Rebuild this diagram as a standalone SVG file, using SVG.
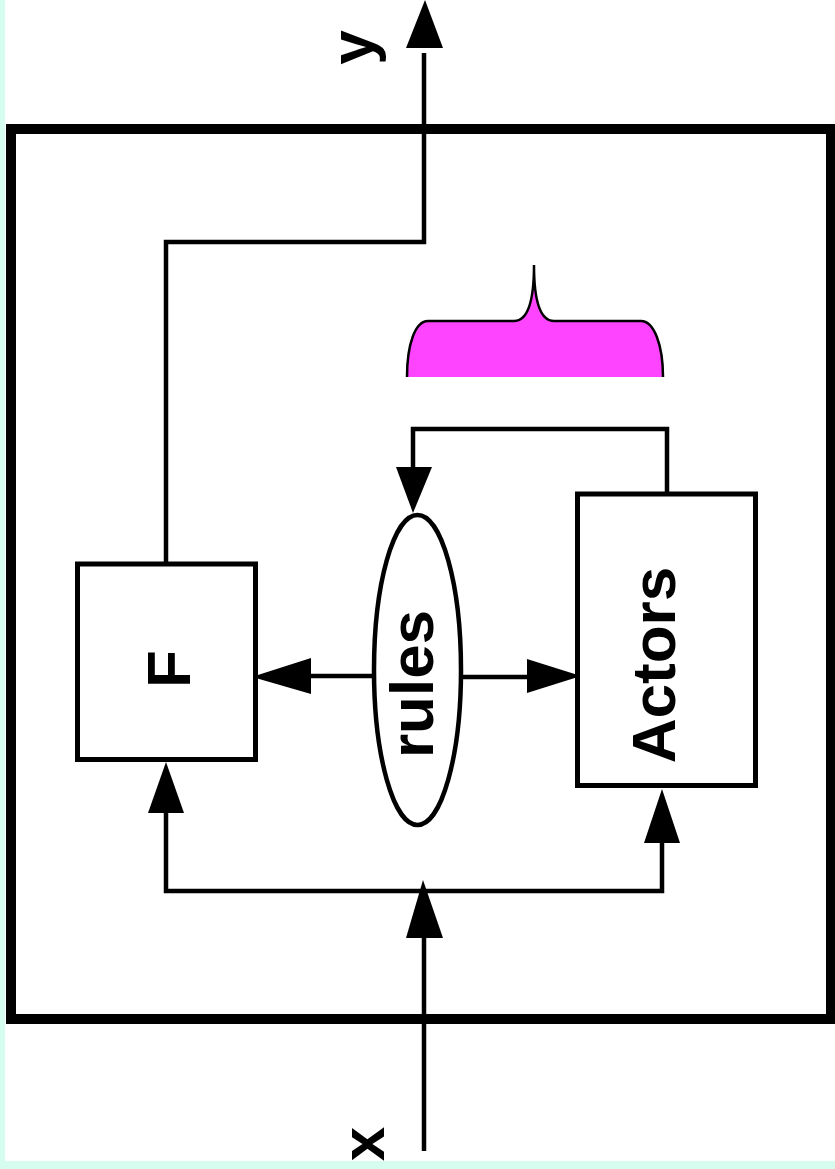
<svg xmlns="http://www.w3.org/2000/svg" width="835" height="1169" viewBox="0 0 835 1169">
  <style>
    .wire { fill: none; stroke: #000; stroke-width: 4.5; stroke-linejoin: miter; stroke-linecap: butt; }
    .box { fill: #fff; stroke: #000; stroke-width: 5; }
    .head { fill: #000; stroke: none; }
    .lbl { font-family: "Liberation Sans", Arial, Helvetica, sans-serif; font-weight: bold; font-size: 62px; fill: #000; text-anchor: middle; }
  </style>
  <rect x="0" y="0" width="835" height="1169" fill="#d5fcee"/>
  <rect x="5" y="0" width="830" height="1161" fill="#fff"/>

  <g id="system">
    <rect x="11" y="129" width="820" height="890" fill="none" stroke="#000" stroke-width="10"/>
  </g>

  <g id="brace">
    <path d="M407,377 C407,345 415,321 428,321 L514,321 C528,321 534,300 534,265 C534,300 540,321 554,321 L641,321 C654,321 663,345 663,377" fill="#ff44ff" stroke="#000" stroke-width="2.5"/>
  </g>

  <g id="connectors">
    <!-- F to output y -->
    <polyline class="wire" points="166,564 166,242 424,242 424,53"/>
    <polygon class="head" points="425,0 406,48 443,48"/>
    <!-- input x -->
    <line class="wire" x1="424" y1="1151" x2="424" y2="938"/>
    <polygon class="head" points="423,880 406,938 443,938"/>
    <!-- distribution to F and Actors -->
    <polyline class="wire" points="166,813 166,891 662,891 662,843"/>
    <polygon class="head" points="166,762 148,813 184,813"/>
    <polygon class="head" points="662,789 644,843 680,843"/>
    <!-- Actors loop back to rules -->
    <polyline class="wire" points="667,494 667,429 413,429 413,467"/>
    <polygon class="head" points="413,513 396,467 432,467"/>
    <!-- rules to F -->
    <line class="wire" x1="372" y1="676" x2="311" y2="676"/>
    <polygon class="head" points="252,677 311,658 311,694"/>
    <!-- rules to Actors -->
    <line class="wire" x1="463" y1="677" x2="527" y2="677"/>
    <polygon class="head" points="581,676 527,659 527,693"/>
  </g>

  <g id="node-F">
    <rect class="box" x="77.5" y="564" width="178" height="195.5"/>
    <text class="lbl" transform="translate(190,669) rotate(-90)">F</text>
  </g>

  <g id="node-rules">
    <ellipse cx="417.5" cy="670" rx="43.5" ry="155" fill="#fff" stroke="#000" stroke-width="4.5"/>
    <text class="lbl" transform="translate(433,684) rotate(-90)">rules</text>
  </g>

  <g id="node-Actors">
    <rect class="box" x="577.5" y="494" width="178" height="291.5"/>
    <text class="lbl" transform="translate(675,665) rotate(-90)">Actors</text>
  </g>

  <g id="label-y">
    <text class="lbl" transform="translate(373,47.5) rotate(-90)">y</text>
  </g>
  <g id="label-x">
    <text class="lbl" transform="translate(384,1144) rotate(-90)">x</text>
  </g>
</svg>
